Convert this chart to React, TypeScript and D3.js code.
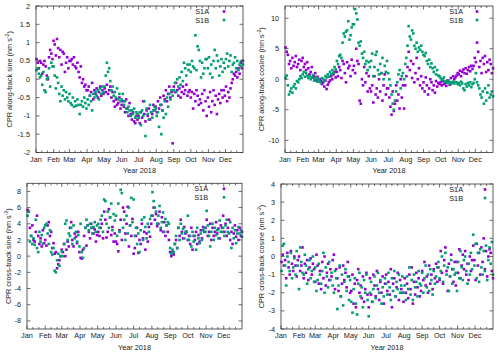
import * as d3 from 'd3';
import React from 'react';

const MONTHS = ['Jan', 'Feb', 'Mar', 'Apr', 'May', 'Jun', 'Jul', 'Aug', 'Sep', 'Oct', 'Nov', 'Dec'];
const MONTH_START = [0, 31, 59, 90, 120, 151, 181, 212, 243, 273, 304, 334];
const YEAR_DAYS = 365;

// every series is sampled every 2 days, starting on Jan 2 (one row ~ one month)
const SAMPLE_STEP = 2;

const alongSineS1A = [
  0.55, 0.45, 0.3, 0.5, 0.45, 0.15, 0.4, 0.5, 0.35, 0.1, 0.0, 0.6, 0.8, 0.7, 0.55,
  1.05, 0.95, 0.65, 1.1, 0.85, 0.6, 0.8, 0.4, 0.75, 0.7, 0.2, 0.45, 0.6, 0.3, 0.5,
  0.5, 0.55, 0.4, 0.6, 0.35, 0.3, 0.45, 0.2, 0.05, 0.35, -0.1, 0.0, -0.2, -0.15, -0.3,
  -0.3, -0.2, -0.45, -0.35, -0.1, -0.55, -0.3, -0.4, -0.25, -0.5, -0.35, -0.2, -0.45, -0.3, -0.4,
  -0.25, -0.35, -0.15, -0.4, -0.3, -0.2, -0.5, -0.35, -0.6, -0.75, -0.55, -0.7, -0.65, -0.5, -0.8,
  -0.7, -0.6, -0.75, -0.9, -0.55, -0.8, -1.0, -0.65, -0.95, -1.1, -0.9, -1.15, -1.2, -1.0, -1.1,
  -1.0, -1.2, -0.9, -1.05, -0.6, -0.95, -1.15, -0.85, -1.0, -0.8, -1.1, -0.9, -0.95, -0.7, -0.85,
  -0.75, -0.9, -0.6, -0.8, -0.5, -0.7, -0.85, -0.45, -0.55, -0.3, -0.6, -0.4, -0.2, -0.5, -0.35,
  -1.75, -0.2, -0.35, -0.1, -0.3, -0.45, -0.25, -0.5, -0.35, -0.2, -0.4, -0.3, -0.15, -0.45, -0.35,
  -0.3, -0.5, -0.35, -0.8, -0.4, -0.6, -0.3, -0.45, -0.7, -0.55, -0.65, -0.4, -0.85, -0.3, -0.6,
  -1.0, -0.5, -0.75, -0.35, -0.9, -0.6, -0.3, -0.7, -0.45, -0.95, -0.55, -0.4, -0.65, -0.3, -0.5,
  -0.3, -0.45, -0.2, -0.6, -0.35, -0.5, -0.25, -0.1, 0.0, 0.15, 0.1, 0.2, 0.05, 0.3, 0.15,
  0.45, 0.3, 0.5,
];
const alongSineS1B = [
  0.25, 0.3, 0.15, 0.05, 0.1, -0.15, 0.2, -0.3, -0.35, 0.0, 0.05, 0.3, -0.2, 0.45, 0.35,
  0.35, 0.1, -0.25, 0.05, -0.1, -0.4, -0.6, -0.2, -0.45, -0.3, -0.55, -0.35, -0.5, -0.6, -0.4,
  -0.65, -0.7, -0.5, -0.75, -0.6, -0.72, -0.55, -0.7, -0.95, -0.7, -0.6, -0.75, -0.5, -0.65, -0.8,
  -0.55, -0.7, -0.45, -0.6, -0.85, -0.4, -0.5, -0.35, -0.45, -0.3, -0.55, -0.25, -0.4, -0.2, -0.35,
  -0.2, 0.1, 0.45, 0.2, 0.3, -0.05, -0.3, -0.2, -0.45, -0.35, -0.5, -0.25, -0.55, -0.4, -0.6,
  -0.55, -0.4, -0.7, -0.6, -0.8, -0.9, -0.75, -0.85, -1.0, -0.85, -0.95, -0.8, -1.05, -0.9, -0.95,
  -1.05, -0.9, -1.25, -0.85, -1.0, -0.6, -1.55, -0.8, -0.95, -1.1, -0.7, -0.9, -1.05, -0.85, -0.75,
  -0.8, -1.0, -0.9, -1.3, -0.7, -1.5, -0.85, -1.05, -0.6, -0.95, -0.5, -0.75, -0.4, -0.55, -0.3,
  -0.45, -0.3, -0.1, -0.35, 0.0, -0.2, 0.05, -0.15, 0.2, -0.05, 0.45, 0.3, 0.1, 0.4, 0.25,
  0.4, 0.2, 0.5, 0.35, 0.3, 1.2, 0.25, 0.9, 0.8, 0.5, 0.05, 0.45, 0.15, 0.3, 0.55,
  0.55, 0.3, 0.6, 0.15, 0.4, 0.05, 0.5, 0.8, 0.3, 0.65, 0.5, 0.1, 0.35, 0.55, 0.2,
  0.45, 0.3, 0.55, 0.7, 0.35, 0.5, 0.65, 0.2, 0.4, 0.45, 0.6, 0.3, 0.5, 0.25, 0.4,
  0.35, 0.5, 0.4,
];

const alongCosS1A = [
  5.2, 4.5, 4.0, 2.5, 3.0, 1.8, 3.5, 2.2, 2.8, 3.8, 2.0, 2.5, 3.2, 1.5, 3.0,
  3.5, 2.0, 2.5, 1.5, 2.8, 1.8, 0.8, 1.2, 2.0, 0.3, 0.5, 1.0, -0.2, 0.4, 0.0,
  0.0, -0.3, -0.8, -0.5, -1.2, -0.2, -1.6, -0.9, -0.5, -0.2, 0.5, 0.0, 0.8, 1.2, 0.3,
  1.2, 0.5, 2.0, 1.5, 0.2, 3.0, 2.5, 1.0, -0.5, 2.8, 1.8, 2.2, 0.5, 3.2, 1.5,
  2.2, 1.0, 5.0, 3.0, 2.5, -3.5, -4.0, 0.0, -1.0, 2.0, -0.5, 1.0, -2.0, 0.5, -1.5,
  -2.0, -1.0, -3.8, 0.5, -2.5, -1.5, -3.0, 0.0, -2.0, 1.0, -3.5, -1.0, 0.8, -2.5, -1.5,
  -1.5, -3.0, -4.5, -5.8, -2.0, -5.2, -4.0, -1.0, -3.5, -2.5, -4.8, 0.0, -3.0, -1.0, -4.8,
  -1.0, 0.5, 2.0, 4.5, 1.5, 3.0, 0.2, 2.5, -0.5, 1.0, 3.5, 0.0, 1.8, -1.0, 0.5,
  -1.5, -0.5, -2.0, 0.3, -1.0, -2.5, -1.5, 0.0, -0.5, -1.8, -1.0, -2.2, -0.3, -1.2, -0.6,
  -0.8, -0.5, -1.0, -0.3, -0.8, -0.6, -1.1, -0.2, -0.4, -0.9, 0.2, -0.5, 0.5, 0.0, 0.3,
  0.6, 1.0, 0.8, 1.4, 0.5, 1.2, 1.6, 1.0, 1.8, 0.9, 1.5, 2.0, 1.3, 2.2, 1.7,
  2.2, 3.5, 2.8, 6.0, 4.5, 2.0, 3.0, 1.0, 3.5, 2.5, 3.8, 1.2, 2.8, 1.5, 3.2,
  2.5, 1.0, 1.8,
];
const alongCosS1B = [
  0.2, 0.6, -1.0, -2.5, -2.0, -1.5, -2.2, -1.2, -0.8, -1.5, -0.3, -0.5, 0.0, 0.5, 0.2,
  0.8, 1.2, 0.4, 1.0, 0.6, 0.2, 0.5, 0.0, 0.3, 0.7, -0.2, 0.1, 0.3, -0.4, 0.0,
  -0.4, -0.6, 0.2, 0.0, -0.3, 0.5, 0.3, 0.8, 0.4, 1.2, 0.8, 1.5, 1.0, 2.0, 1.6,
  3.0, 2.5, 3.8, 4.0, 3.5, 6.0, 7.5, 7.0, 7.8, 8.0, 9.5, 6.5, 7.2, 8.5, 9.0,
  9.0, 11.5, 10.8, 9.8, 6.0, 5.5, 6.2, 4.2, 3.5, 4.5, 2.5, 3.0, 1.5, 2.8, 2.0,
  3.0, 4.2, 0.5, 2.0, 4.0, 4.5, 1.5, 0.8, 2.5, 1.0, 3.5, 0.0, 2.2, 1.2, 3.0,
  1.0, 0.0, -1.0, -2.5, -4.0, -5.0, -3.5, -2.0, -0.5, 0.8, 1.5, -1.5, 0.5, 1.0, 0.0,
  2.5, 3.5, 5.5, 8.7, 7.0, 6.5, 8.0, 7.5, 5.5, 5.0, 6.0, 4.5, 5.2, 4.8, 5.5,
  4.5, 4.0, 3.8, 4.3, 3.0, 2.5, 3.2, 2.0, 2.6, 1.8, 1.2, 2.0, 0.8, 1.5, 0.6,
  0.5, 0.2, -0.1, 0.0, 0.3, -0.4, -0.3, -0.6, -0.2, -0.5, -0.8, -0.6, -0.4, -0.7, -0.5,
  -0.5, -0.8, -0.6, -1.0, -0.4, -0.7, -1.5, -1.8, -0.8, -1.2, -0.6, -1.0, -0.5, -1.3, -0.8,
  -0.6, 0.0, 1.0, -0.5, -1.0, -1.5, -2.5, -3.0, -2.0, -4.0, -1.5, -3.5, -2.2, -1.0, -3.0,
  -2.5, -2.0, -2.8,
];

const crossSineS1A = [
  5.7, 5.5, 3.5, 2.5, 3.8, 2.0, 1.8, 3.0, 5.0, 2.5, 1.5, 2.2, 1.2, 3.2, 1.6,
  2.0, 1.3, 3.8, 4.2, 2.5, 3.0, 1.0, 1.6, 0.3, 0.5, -1.5, -1.0, -0.5, 0.0, 0.8,
  0.5, 1.5, 0.0, 0.8, 1.8, 1.2, 3.5, 4.2, 2.0, 1.2, 2.8, 2.4, 1.6, 3.0, 0.5,
  -0.2, -0.3, 0.8, 2.5, 3.5, 1.3, 3.8, 3.0, 2.2, 4.0, 3.5, 2.8, 3.3, 1.8, 2.6,
  3.0, 2.5, 3.5, 4.0, 2.2, 5.5, 4.5, 2.3, 3.0, 5.8, 4.8, 2.6, 3.6, 1.8, 2.8,
  1.8, 1.5, 0.6, 3.2, 4.5, 2.0, 6.0, 5.5, 2.8, 4.0, 6.1, 1.2, 3.8, 2.5, 4.6,
  0.3, 1.0, 2.5, 3.5, 0.4, 2.0, 1.5, 4.0, 2.2, 3.0, 0.8, 2.8, 1.8, 3.6, 2.4,
  4.0, 5.0, 6.0, 4.5, 5.2, 3.7, 4.0, 5.5, 3.2, 4.8, 3.0, 4.2, 2.5, 3.8, 3.0,
  2.0, 0.5, 0.0, 0.5, 0.2, 1.5, 2.0, 1.0, 3.5, 2.5, 4.5, 3.0, 2.2, 3.6, 2.8,
  3.0, 2.0, 2.5, 1.5, 3.5, 0.8, 2.5, 2.0, 3.0, 1.5, 2.6, 1.8, 3.2, 2.2, 3.6,
  3.0, 3.5, 4.5, 2.5, 3.0, 4.0, 2.0, 3.5, 2.5, 3.0, 4.2, 2.8, 3.4, 2.2, 3.8,
  3.5, 5.0, 3.0, 4.0, 2.5, 3.5, 4.5, 2.0, 3.0, 1.5, 2.8, 3.8, 2.4, 3.2, 2.0,
  3.5, 2.5, 3.0,
];
const crossSineS1B = [
  5.0, 5.5, 1.8, 2.5, 1.5, 2.2, 1.4, 4.5, 1.0, 0.5, 3.0, 1.8, 2.6, 1.5, 3.5,
  3.8, 4.0, 2.8, 1.5, 3.2, 0.5, 0.2, 1.0, -1.8, -2.0, -0.5, 0.3, -1.2, 0.0, 0.6,
  0.0, 1.5, 4.0, 4.4, 2.0, 2.8, 2.5, 3.5, 1.5, 3.8, 2.2, 3.0, 1.8, 2.6, 1.2,
  4.0, 0.5, -0.2, 1.0, 3.5, 4.5, 3.8, 3.2, 4.0, 3.5, 2.8, 3.6, 4.2, 3.0, 3.8,
  4.0, 3.5, 4.5, 5.0, 3.0, 7.0, 6.8, 4.0, 5.5, 3.5, 4.8, 6.5, 3.2, 5.2, 4.4,
  5.0, 2.5, 6.5, 3.0, 8.2, 7.8, 3.5, 4.5, 2.0, 5.0, 2.8, 6.0, 3.8, 7.2, 4.2,
  7.0, 2.5, 3.5, 1.5, 2.8, 0.5, 3.2, 4.5, 2.0, 4.8, 3.6, 2.2, 4.0, 3.0, 4.6,
  5.0, 7.9, 6.8, 6.0, 5.5, 4.0, 5.0, 6.2, 3.5, 4.2, 5.4, 3.0, 4.6, 3.8, 4.2,
  4.0, 1.0, 0.3, 0.8, 0.5, 1.5, 2.5, 1.0, 3.5, 2.0, 4.0, 2.8, 3.4, 2.2, 3.0,
  3.0, 5.0, 2.0, 2.5, 1.2, 3.0, 1.8, 2.5, 0.8, 3.5, 2.2, 1.6, 2.8, 2.0, 3.2,
  3.5, 3.0, 5.6, 3.8, 2.5, 1.2, 3.0, 4.0, 2.0, 3.5, 2.6, 3.2, 2.2, 4.4, 3.0,
  3.0, 3.5, 2.5, 3.8, 4.5, 3.0, 2.8, 4.2, 1.0, 3.5, 2.2, 3.2, 1.6, 2.8, 3.6,
  2.8, 3.2, 2.4,
];

const crossCosS1A = [
  -0.3, 0.1, -0.5, -0.2, -1.2, 0.2, -0.6, -1.0, 0.3, -0.4, -0.8, 0.0, -0.5, -1.1, -0.2,
  0.0, -0.8, -0.5, 0.5, -1.2, -0.4, -0.9, -0.2, -1.3, -0.6, -0.1, -1.0, -0.4, -0.7, -1.4,
  0.1, -0.5, -1.5, -0.8, -1.8, -0.3, -1.2, 0.0, -1.6, -0.9, -0.4, -1.3, -0.7, -1.1, -0.2,
  0.1, -1.8, -0.7, -1.2, -1.9, -0.6, -2.2, -1.5, -0.5, -1.3, -0.9, -1.7, -0.3, -1.1, -2.0,
  -1.9, -1.0, -2.6, -1.5, -2.8, -1.3, -0.7, -2.0, -1.6, -2.3, -1.1, -2.5, -1.8, -0.9, -2.1,
  -2.8, -1.2, -2.1, -2.5, -1.0, -1.6, -2.2, -0.8, -1.8, -2.4, -1.4, -2.0, -1.1, -2.6, -1.5,
  -1.0, -1.9, -1.4, -2.1, -0.7, -2.8, -1.5, -1.2, -2.2, -1.7, -0.9, -2.4, -1.3, -1.8, -2.0,
  -2.5, -1.2, -2.0, -1.5, -2.3, -1.0, -1.8, -0.6, -2.6, -1.4, -2.1, -0.9, -1.7, -1.2, -2.2,
  -1.9, -0.8, -1.3, -0.3, -1.6, -1.1, -2.0, -0.5, -1.5, -1.0, -1.8, -0.7, -1.2, -0.4, -1.4,
  -0.6, -1.3, 0.3, -0.9, -1.5, -0.2, 0.5, -0.8, -1.9, -0.4, -1.1, 0.1, -0.7, -1.4, -0.3,
  -1.6, -0.3, -0.9, 0.4, -1.2, -0.5, 0.1, -0.7, 0.3, -1.0, -0.4, -1.3, 0.0, -0.8, -0.2,
  0.6, -0.2, -1.3, 0.7, -0.5, 0.2, -1.0, 0.5, -0.3, 1.0, -0.7, 0.3, -1.1, 0.0, 0.4,
  0.2, -0.8, -1.2,
];
const crossCosS1B = [
  -0.8, 0.6, 0.7, -0.5, -1.6, 0.0, -0.3, -0.8, 0.2, -1.2, -0.6, -0.1, -1.0, 0.3, -0.5,
  -1.8, 0.5, -0.3, -0.9, -1.0, 0.1, -0.5, -1.5, -0.7, -0.2, -1.2, -0.8, 0.0, -1.4, -0.6,
  -1.9, -1.3, -0.4, -1.0, -1.5, -0.8, 0.2, -2.0, -0.6, -1.1, -1.7, -0.3, -1.3, -0.9, -1.6,
  -2.0, -0.8, -1.2, -2.9, -1.6, -0.5, -2.2, -1.0, -2.7, -1.4, -0.7, -1.9, -1.1, -2.4, -1.3,
  -2.5, -3.1, -1.8, -1.2, -2.6, -3.2, -1.5, -0.9, -2.2, -1.7, -2.8, -1.3, -2.0, -1.0, -2.4,
  -3.3, -2.0, -1.4, -2.5, -1.8, -1.1, -2.3, -1.6, -0.9, -2.0, -1.3, -2.6, -1.7, -2.2, -1.2,
  -1.5, -2.1, -0.9, -1.7, -2.4, -1.2, -1.9, -0.8, -2.2, -1.4, -1.8, -1.0, -2.0, -1.6, -1.1,
  -2.0, -1.6, -2.4, -1.1, -1.8, -0.6, -2.1, -1.3, -2.4, -1.0, -1.7, -1.4, -2.2, -0.8, -1.5,
  -1.6, -0.9, -2.0, -1.2, -0.5, -1.7, -1.0, -1.9, -0.7, -1.3, -2.1, -0.8, -1.5, -1.1, -0.6,
  -0.3, -1.2, -0.8, 0.0, -1.4, -0.5, 0.2, -1.0, -0.6, -1.9, -1.1, -0.2, -1.5, -0.7, -1.0,
  -0.9, -1.9, -0.3, -1.2, 0.3, -0.6, -1.3, -0.2, 0.0, -0.8, -1.5, -0.4, -1.0, 0.2, -0.7,
  1.2, -0.5, 0.7, -1.2, 0.2, -1.4, 0.4, -0.6, -1.0, 0.3, -0.8, 0.6, -1.3, -0.2, 0.5,
  -0.4, 0.8, -1.0,
];

const PURPLE = '#9400d3';
const GREEN = '#009e73';
const FONT = '"Liberation Sans", Arial, sans-serif';
const FS = 7.3;
const DOT = 2.6;

const Panel = ({ left, right, top, bottom, domain, ticks, label, labelX, s1a, s1b, legendTextX, legendMarkX }) => {
  const x = d3.scaleLinear([0, YEAR_DAYS], [left, right]);
  const y = d3.scaleLinear(domain, [bottom, top]);
  const minor = MONTH_START.flatMap((d) => [d + 10, d + 20]);
  const mid = (top + bottom) / 2;
  const leg1 = top + 5.5;
  const leg2 = top + 14;

  const dots = (vals, color) =>
    vals.map((v, i) => (
      <rect key={i} x={x(1 + i * SAMPLE_STEP) - DOT / 2} y={y(v) - DOT / 2} width={DOT} height={DOT} fill={color} />
    ));

  return (
    <g fontFamily={FONT} fontSize={FS} fill="#222">
      {dots(s1a, PURPLE)}
      {dots(s1b, GREEN)}
      <rect x={left} y={top} width={right - left} height={bottom - top} fill="none" stroke="#333" strokeWidth={0.8} />
      <g stroke="#333" strokeWidth={0.7}>
        {MONTH_START.map((d) => (
          <g key={d}>
            <line x1={x(d)} x2={x(d)} y1={bottom} y2={bottom - 3.5} />
            <line x1={x(d)} x2={x(d)} y1={top} y2={top + 3.5} />
          </g>
        ))}
        {minor.map((d) => (
          <g key={d}>
            <line x1={x(d)} x2={x(d)} y1={bottom} y2={bottom - 2} />
            <line x1={x(d)} x2={x(d)} y1={top} y2={top + 2} />
          </g>
        ))}
        {ticks.map((t) => (
          <g key={t}>
            <line x1={left} x2={left + 3.5} y1={y(t)} y2={y(t)} />
            <line x1={right} x2={right - 3.5} y1={y(t)} y2={y(t)} />
          </g>
        ))}
      </g>
      {ticks.map((t) => (
        <text key={t} x={left - 6} y={y(t)} dy="0.35em" textAnchor="end">
          {String(t)}
        </text>
      ))}
      {MONTHS.map((m, i) => (
        <text key={m} x={x(MONTH_START[i])} y={bottom + 9} textAnchor="middle">
          {m}
        </text>
      ))}
      <text x={(left + right) / 2} y={bottom + 20.5} textAnchor="middle">
        Year 2018
      </text>
      <text transform={`translate(${labelX},${mid}) rotate(-90)`} textAnchor="middle">
        {label} (nm s<tspan dy={-3} fontSize={5.2}>-2</tspan>
        <tspan dy={3}>)</tspan>
      </text>
      <text x={legendTextX} y={leg1} dy="0.35em" textAnchor="end">S1A</text>
      <text x={legendTextX} y={leg2} dy="0.35em" textAnchor="end">S1B</text>
      <rect x={legendMarkX - DOT / 2} y={leg1 - DOT / 2} width={DOT} height={DOT} fill={PURPLE} />
      <rect x={legendMarkX - DOT / 2} y={leg2 - DOT / 2} width={DOT} height={DOT} fill={GREEN} />
    </g>
  );
};

export default function App() {
  return (
    <div style={{ position: 'absolute', left: 0, top: 0 }}>
      <svg width={500} height={354} style={{ display: 'block', background: '#fff' }}>
        <Panel left={36} right={243} top={6} bottom={152.5} domain={[-2, 2]}
          ticks={d3.range(-2, 2.01, 0.5)} label="CPR along-track sine" labelX={11.5}
          s1a={alongSineS1A} s1b={alongSineS1B} legendTextX={209} legendMarkX={224} />
        <Panel left={285} right={493} top={6} bottom={152.5} domain={[-12, 12]}
          ticks={[-10, -5, 0, 5, 10]} label="CPR along-track cosine" labelX={264}
          s1a={alongCosS1A} s1b={alongCosS1B} legendTextX={463} legendMarkX={477} />
        <Panel left={27} right={242} top={183.3} bottom={329} domain={[-9, 9]}
          ticks={[-8, -6, -4, -2, 0, 2, 4, 6, 8]} label="CPR cross-track sine" labelX={10.5}
          s1a={crossSineS1A} s1b={crossSineS1B} legendTextX={208} legendMarkX={224} />
        <Panel left={281} right={493} top={184} bottom={329} domain={[-4, 4]}
          ticks={[-4, -3, -2, -1, 0, 1, 2, 3, 4]} label="CPR cross-track cosine" labelX={264}
          s1a={crossCosS1A} s1b={crossCosS1B} legendTextX={463} legendMarkX={485} />
      </svg>
    </div>
  );
}
